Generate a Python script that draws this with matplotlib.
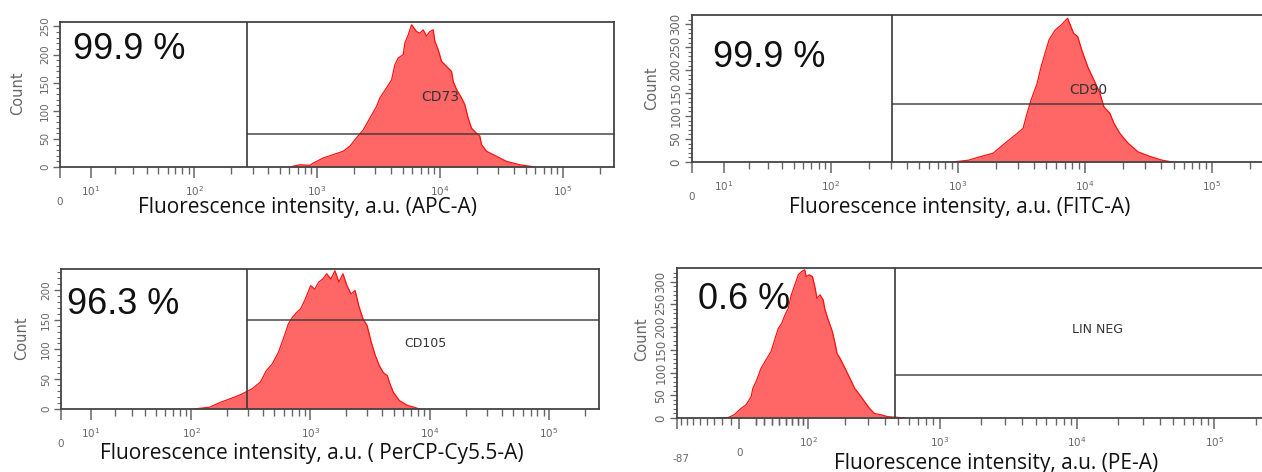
"""Four flow-cytometry histograms (CD73, CD90, CD105, lineage) on a biexponential axis."""

import matplotlib

matplotlib.use("Agg")
import matplotlib.pyplot as plt
import numpy as np

W, H = 1262, 472

# --- data (intensity in a.u., events per channel) ---
CD73_INTENSITY = [605, 729, 880, 937, 1128, 1361, 1641, 1861, 2109, 2390, 2707,
                  3071, 3267, 3702, 4065, 4323, 4603, 5053, 5216, 5550, 5910,
                  6492, 6906, 7342, 7824, 8326, 8859, 9138, 9723, 10365, 11387,
                  12497, 12893, 13725, 15061, 16023, 17050, 18175, 19951, 21223,
                  21907, 24059, 29014, 34980, 44874, 59460]
CD73_COUNT = [0, 4, 3, 7, 16, 22, 28, 37, 52, 66, 87,
              108, 123, 141, 155, 182, 194, 200, 221, 235, 253,
              241, 238, 244, 233, 241, 244, 224, 209, 188, 179,
              170, 152, 138, 123, 111, 87, 69, 60, 55,
              40, 28, 19, 10, 4, 0]

CD90_INTENSITY = [916, 1226, 1526, 1903, 2365, 2941, 3276, 3524, 3788, 4223,
                  4540, 4883, 5249, 5852, 6527, 7342, 7610, 8183, 8818, 9477,
                  10579, 11800, 13180, 14165, 15795, 17001, 18957, 21956,
                  26308, 32682, 40603, 48704]
CD90_COUNT = [0, 4, 12, 19, 41, 62, 73, 106, 135, 171,
              207, 237, 266, 287, 298, 313, 302, 280, 273, 244,
              207, 179, 150, 120, 106, 84, 62, 41,
              22, 12, 4, 0]

CD105_INTENSITY = [105, 143, 175, 212, 267, 325, 381, 427, 481, 540, 607, 655,
                   709, 767, 829, 896, 1008, 1088, 1175, 1271, 1373, 1485,
                   1607, 1736, 1875, 2029, 2192, 2369, 2564, 2769, 2991, 3240,
                   3500, 3780, 4090, 4417, 4593, 4962, 5584, 6527, 8248]
CD105_COUNT = [0, 3, 11, 17, 25, 34, 45, 64, 76, 95, 123, 143,
               154, 162, 168, 182, 207, 201, 213, 218, 227, 218,
               232, 213, 227, 207, 193, 199, 171, 151, 140, 112,
               90, 73, 61, 56, 45, 28, 14, 6, 0]

LIN_INTENSITY = [-28, -13, -6, 2, 8, 14, 16, 20, 26, 31, 39, 44, 49, 54, 59,
                 64, 69, 75, 81, 87, 93, 96, 102, 109, 115, 119, 126, 134,
                 138, 146, 159, 168, 173, 183, 200, 218, 237, 258, 281, 306,
                 333, 372, 416, 566]
LIN_COUNT = [0, 1, 7, 21, 29, 47, 65, 80, 109, 124, 146, 172, 197, 208, 227,
             241, 271, 293, 315, 322, 326, 311, 315, 311, 285, 263, 271, 260,
             241, 219, 190, 161, 142, 131, 109, 87, 65, 51, 36, 21,
             10, 7, 3, 0]

MARKERS = ["CD73", "CD90", "CD105", "LIN NEG"]
PERCENTS = ["99.9 %", "99.9 %", "96.3 %", "0.6 %"]
CHANNELS = ["(APC-A)", "(FITC-A)", "( PerCP-Cy5.5-A)", "(PE-A)"]
GATE_X = [270, 305, 294, 470]
GATE_Y = [59, 126, 150, 95]
Y_TOP = [258, 320, 235, 330]
Y_TICKS = [[0, 50, 100, 150, 200, 250],
           [0, 50, 100, 150, 200, 250, 300],
           [0, 50, 100, 150, 200],
           [0, 50, 100, 150, 200, 250, 300]]
X_LEFT = [0, 0, 0, -87]
X_RIGHT = 262144
FIRST_DECADE = [1, 1, 1, 2]

FILL = "#ff6666"
EDGE = "#ff1010"
GATE = "#3a3a3a"
GREY = "#666666"

# --- layout (pixel boxes: left, top, right, bottom) ---
BOXES = [(60, 22, 614, 167), (692, 15, 1265, 162),
         (61, 269, 599, 409), (677, 268, 1272, 418)]
WIDTHS = [16.3, 16.3, 16.3, 70.0]
PCT_POS = [(0.023, 0.807), (0.037, 0.714), (0.011, 0.743), (0.035, 0.787)]
MARK_POS = [(0.686, 0.483), (0.691, 0.49), (0.677, 0.471), (0.706, 0.587)]
MARK_SIZE = [10, 10, 9, 9]
YTICK_SIZE = [7.5, 8.5, 7.5, 8.5]
XLABEL_POS = [(307, 208), (960, 208), (312, 454), (996, 463)]
COUNT_POS = [(18, 93), (652, 88), (22, 338), (642, 339)]


def box_to_fig(left, top, right, bottom):
    return [left / W, 1 - bottom / H, (right - left) / W, (bottom - top) / H]


def biex(width):
    return (lambda v: np.arcsinh(np.asarray(v, dtype=float) / width),
            lambda u: width * np.sinh(np.asarray(u, dtype=float)))


def minor_ticks(left, first):
    ticks = [m * 10.0 ** p for p in range(1, 5) for m in range(2, 10)] + [2e5]
    if left < 0:
        ticks += list(range(-80, 0, 10)) + list(range(10, 100, 10))
    if first > 1:
        ticks = [t for t in ticks if t != 10]
    return sorted(ticks)


fig = plt.figure(figsize=(W / 100, H / 100), dpi=100)
series = [(CD73_INTENSITY, CD73_COUNT), (CD90_INTENSITY, CD90_COUNT),
          (CD105_INTENSITY, CD105_COUNT), (LIN_INTENSITY, LIN_COUNT)]

for i, (xs, ys) in enumerate(series):
    ax = fig.add_axes(box_to_fig(*BOXES[i]))
    ax.set_xscale("function", functions=biex(WIDTHS[i]))
    ax.set_xlim(X_LEFT[i], X_RIGHT)
    ax.set_ylim(0, Y_TOP[i])

    ax.fill_between(xs, ys, color=FILL, lw=0, zorder=1)
    ax.plot(xs, ys, color=EDGE, lw=0.9, zorder=2)
    ax.vlines(GATE_X[i], 0, Y_TOP[i], color=GATE, lw=1.2, zorder=3)
    ax.hlines(GATE_Y[i], GATE_X[i], X_RIGHT, color=GATE, lw=1.2, alpha=0.85,
              zorder=3)

    for side in ax.spines.values():
        side.set_color("#444444")
        side.set_linewidth(1.3)

    decades = [10.0 ** e for e in range(FIRST_DECADE[i], 6)]
    major = ([X_LEFT[i]] if X_LEFT[i] < 0 else []) + [0] + decades
    ax.set_xticks(major)
    ax.set_xticks(minor_ticks(X_LEFT[i], FIRST_DECADE[i]), minor=True)
    ax.set_xticklabels([])
    ax.tick_params(axis="x", which="major", length=8, width=1.1, color=GREY)
    ax.tick_params(axis="x", which="minor", length=5, width=1.0, color=GREY)

    ax.set_yticks(Y_TICKS[i])
    ax.set_yticks(np.arange(0, Y_TOP[i], 10), minor=True)
    ax.set_yticklabels([str(t) for t in Y_TICKS[i]], rotation=90, va="center",
                       fontsize=YTICK_SIZE[i], color=GREY)
    ax.tick_params(axis="y", which="major", length=5, width=1.0, color=GREY,
                   pad=2)
    ax.tick_params(axis="y", which="minor", length=3, width=0.8, color=GREY)

    # decade labels under the axis
    for d in decades:
        ax.annotate(rf"$10^{{{int(round(np.log10(d)))}}}$", xy=(d, 0),
                    xycoords=("data", "axes fraction"), xytext=(0, -24),
                    textcoords="offset pixels", ha="center", va="center",
                    fontsize=7.5, color=GREY)
    ax.annotate("0", xy=(0, 0), xycoords=("data", "axes fraction"),
                xytext=(0, -35), textcoords="offset pixels", ha="center",
                va="center", fontsize=7.5, color=GREY)
    if X_LEFT[i] < 0:
        ax.annotate(str(X_LEFT[i]), xy=(X_LEFT[i], 0),
                    xycoords=("data", "axes fraction"), xytext=(4, -41),
                    textcoords="offset pixels", ha="center", va="center",
                    fontsize=7.5, color=GREY)

    ax.text(*PCT_POS[i], PERCENTS[i], transform=ax.transAxes, ha="left",
            va="center", fontsize=26, family="Liberation Sans", color="#111111")
    ax.text(*MARK_POS[i], MARKERS[i], transform=ax.transAxes, ha="center",
            va="center", fontsize=MARK_SIZE[i], color="#333333")

    lx, ly = XLABEL_POS[i]
    fig.text(lx / W, 1 - ly / H,
             f"Fluorescence intensity, a.u. {CHANNELS[i]}", ha="center",
             va="center", fontsize=15, family="Open Sans", color="#111111")
    cx, cy = COUNT_POS[i]
    fig.text(cx / W, 1 - cy / H, "Count", rotation=90, ha="center",
             va="center", fontsize=10.5, color=GREY)

fig.savefig("out.png", dpi=100)
